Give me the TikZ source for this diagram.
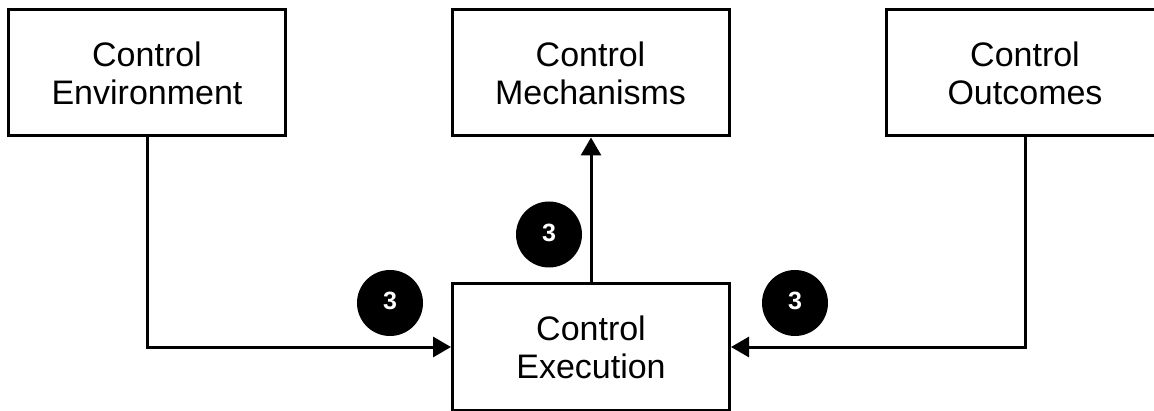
\documentclass[tikz,border=0pt]{standalone}
\usepackage{fontspec}
\setmainfont{Liberation Sans}
\usetikzlibrary{arrows.meta}
\begin{document}
\begin{tikzpicture}[x=1pt,y=1pt,
 block/.style={draw=black, line width=3pt, minimum width=277pt, minimum height=126pt, align=center, font=\fontsize{34}{38}\selectfont},
 badge/.style={circle, fill=black, minimum size=66pt, inner sep=0pt, text=white, font=\bfseries\fontsize{25}{26}\selectfont},
 link/.style={black, line width=3pt, -{Triangle[length=18pt,width=20pt]}}]
\useasboundingbox (0,0) rectangle (1154,410);
\node[block] (env) at (147,337) {Control\\Environment};
\node[block] (mech) at (590.5,337) {Control\\Mechanisms};
\node[block] (out) at (1025,337) {Control\\Outcomes};
\node[block] (exe) at (591,63) {Control\\Execution};

\draw[link] (env.south) |- (exe.west);
\draw[link] (exe.north) -- (exe.north |- mech.south);
\draw[link] (out.south) |- (exe.east);

\foreach \name/\x/\y in {badgeA/390/107, badgeB/549/175.5, badgeC/795/107} {
 \node[badge] (\name) at (\x,\y) {\raisebox{4pt}{3}};
}
\end{tikzpicture}
\end{document}
